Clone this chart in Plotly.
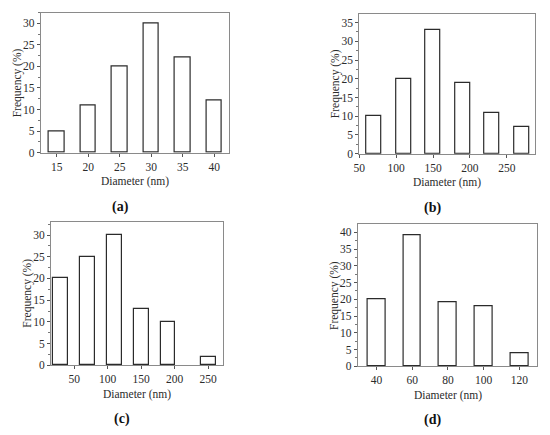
import plotly.graph_objects as go

# panel (a)
a_diam = [15, 20, 25, 30, 35, 40]
a_freq = [5, 11, 20, 30, 22, 12]
# panel (b)
b_diam = [70, 110, 150, 190, 230, 270]
b_freq = [10, 20, 33, 19, 11, 7]
# panel (c)
c_diam = [30, 70, 110, 150, 190, 250]
c_freq = [20, 25, 30, 13, 10, 2]
# panel (d)
d_diam = [40, 60, 80, 100, 120]
d_freq = [20, 39, 19, 18, 4]

W, H = 550, 435
SERIF = "Liberation Serif, Times New Roman, serif"
TEXT = "#2b2b2b"

# (frame px box: left, right, top, bottom), x range, y range, bar width, x ticks, y ticks
panels = [
    ("a", a_diam, a_freq, (40.7, 229.3, 12.5, 152.7), [12.45, 42.4], [0, 32.5], 2.5,
     [15, 20, 25, 30, 35, 40], list(range(0, 31, 5))),
    ("b", b_diam, b_freq, (359.3, 535.3, 14, 153.7), [50, 288.6], [0, 37.3], 20,
     [50, 100, 150, 200, 250], list(range(0, 36, 5))),
    ("c", c_diam, c_freq, (51, 222.7, 222, 365.3), [15.4, 271.6], [0, 33], 22,
     [50, 100, 150, 200, 250], list(range(0, 31, 5))),
    ("d", d_diam, d_freq, (357.7, 537.3, 224.3, 366.3), [29.5, 130], [0, 42.4], 10,
     [40, 60, 80, 100, 120], list(range(0, 41, 5))),
]

fig = go.Figure()
layout = {}
annotations = []

for i, (tag, xs, ys, box, xr, yr, bw, xt, yt) in enumerate(panels, start=1):
    left, right, top, bottom = box
    sfx = "" if i == 1 else str(i)
    fig.add_trace(
        go.Bar(
            x=xs,
            y=ys,
            width=bw,
            marker=dict(color="white", line=dict(color="#2b2b2b", width=1.2)),
            xaxis="x" + sfx,
            yaxis="y" + sfx,
            showlegend=False,
        )
    )
    common = dict(
        ticks="outside",
        ticklen=3,
        tickcolor="#555",
        showline=True,
        mirror=True,
        linecolor="#8a8a8a",
        linewidth=1,
        showgrid=False,
        zeroline=False,
        automargin=False,
        tickfont=dict(family=SERIF, size=11.5, color=TEXT),
    )
    layout["xaxis" + sfx] = dict(
        domain=[left / W, right / W],
        range=xr,
        anchor="y" + sfx,
        tickvals=xt,
        **common,
    )
    layout["yaxis" + sfx] = dict(
        domain=[1 - bottom / H, 1 - top / H],
        range=yr,
        anchor="x" + sfx,
        tickvals=yt,
        minor=dict(ticks="outside", ticklen=2, dtick=2.5, tickcolor="#777"),
        **common,
    )
    cx = (left + right) / 2
    label = dict(xref="paper", yref="paper", showarrow=False,
                 xanchor="center", yanchor="middle")
    annotations.append(dict(
        label, text="Diameter (nm)", x=cx / W, y=1 - (bottom + 29) / H,
        font=dict(family=SERIF, size=11.5, color=TEXT),
    ))
    annotations.append(dict(
        label, text="Frequency (%)", x=(left - 23) / W, y=1 - (top + bottom) / 2 / H,
        textangle=-90, font=dict(family=SERIF, size=11.5, color=TEXT),
    ))
    annotations.append(dict(
        label, text="<b>(" + tag + ")</b>", x=(cx - 15) / W, y=1 - (bottom + 54) / H,
        font=dict(family=SERIF, size=14, color="#111"),
    ))

fig.update_layout(
    **layout,
    annotations=annotations,
    width=W,
    height=H,
    margin=dict(l=0, r=0, t=0, b=0),
    plot_bgcolor="white",
    paper_bgcolor="white",
    bargap=0,
)

# page body has a default 8px margin; drop it so the figure sits at the corner
fig.write_html(
    "out.html",
    config={"displayModeBar": False},
    post_script="document.body.style.margin = '0';",
)
